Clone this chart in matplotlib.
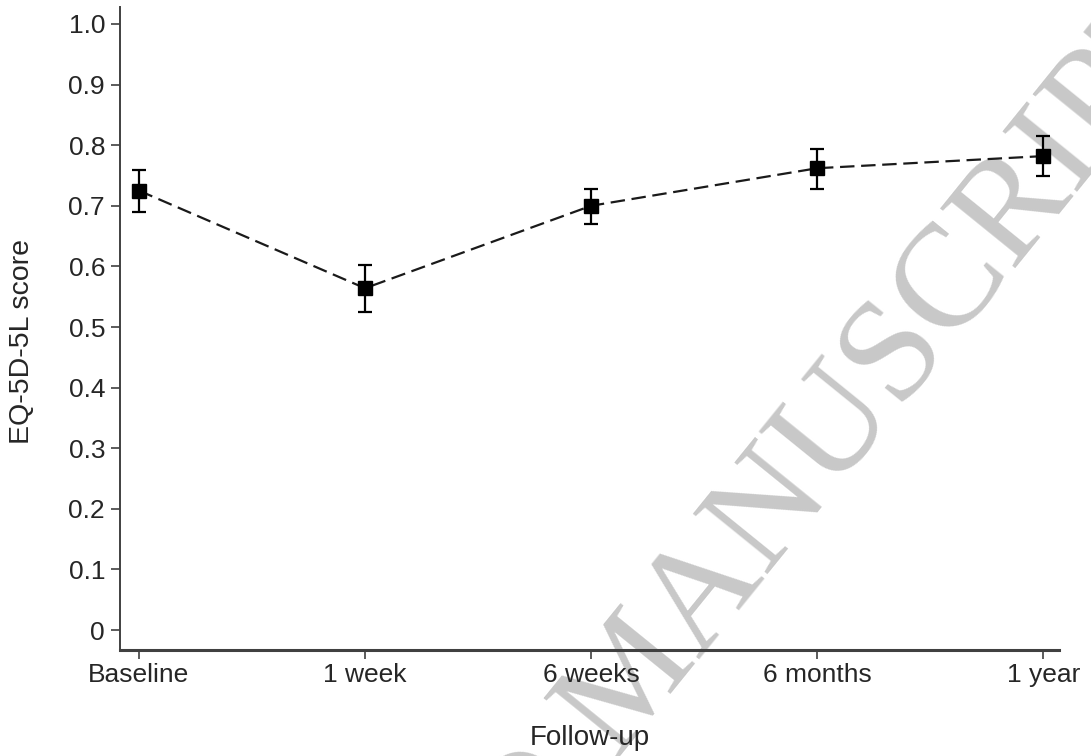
import matplotlib
matplotlib.use("Agg")
import matplotlib.pyplot as plt

# ── EQ-5D-5L utility over follow-up ──────────────────────────
timepoints = ["Baseline", "1 week", "6 weeks", "6 months", "1 year"]
mean_score = [0.725, 0.564, 0.700, 0.762, 0.782]
ci_lower   = [0.690, 0.524, 0.670, 0.728, 0.750]
ci_upper   = [0.759, 0.603, 0.728, 0.794, 0.816]

y_ticks = [0, 0.1, 0.2, 0.3, 0.4, 0.5, 0.6, 0.7, 0.8, 0.9, 1.0]
y_tick_labels = ["0", "0.1", "0.2", "0.3", "0.4", "0.5", "0.6", "0.7", "0.8", "0.9", "1.0"]

plt.rcParams["font.family"] = ["Liberation Sans", "DejaVu Sans"]
TEXT = "#262626"
AXIS = "#404040"


def main():
    fig = plt.figure(figsize=(10.91, 7.56), dpi=100)
    ax = fig.add_axes([0.110, 0.1402, 0.8607, 0.8505])

    x = list(range(len(timepoints)))
    err_lo = [m - lo for m, lo in zip(mean_score, ci_lower)]
    err_hi = [hi - m for m, hi in zip(mean_score, ci_upper)]

    ax.errorbar(x, mean_score, yerr=[err_lo, err_hi], fmt="none",
                ecolor="black", elinewidth=1.6, capsize=4.8, capthick=1.6,
                zorder=3)
    ax.plot(x, mean_score, color="#1a1a1a", lw=1.6, ls="--",
            dashes=(6.5, 3.0), marker="s", ms=10, mfc="black", mec="black",
            zorder=4)

    ax.set_xlim(-0.084, 4.07)
    ax.set_ylim(-0.033, 1.028)
    ax.set_xticks(x)
    ax.set_xticklabels(timepoints)
    ax.set_yticks(y_ticks)
    ax.set_yticklabels(y_tick_labels)

    for side in ("top", "right"):
        ax.spines[side].set_visible(False)
    ax.spines["left"].set_color(AXIS)
    ax.spines["left"].set_linewidth(1.4)
    ax.spines["bottom"].set_color(AXIS)
    ax.spines["bottom"].set_linewidth(2.2)

    ax.tick_params(axis="both", direction="out", length=6.5, width=1.2,
                   color=AXIS, labelsize=19, labelcolor=TEXT)
    ax.tick_params(axis="y", pad=4.3)
    ax.tick_params(axis="x", pad=3)

    ax.set_ylabel("EQ-5D-5L score", fontsize=20.5, color=TEXT, va="center")
    ax.yaxis.set_label_coords(-0.104, 0.48)
    ax.set_xlabel("Follow-up", fontsize=20, color=TEXT, va="center")
    ax.xaxis.set_label_coords(0.5, -0.137)

    # stamp across the figure, kept behind the data
    ax.text(0.55, -0.048, "ACCEPTED MANUSCRIPT", transform=ax.transAxes,
            family=["Liberation Serif", "DejaVu Serif"], fontsize=106,
            color="#c8c8c8", rotation=51, rotation_mode="anchor",
            ha="center", va="center", zorder=0, clip_on=False)

    fig.savefig("out.png", dpi=100)


if __name__ == "__main__":
    main()
